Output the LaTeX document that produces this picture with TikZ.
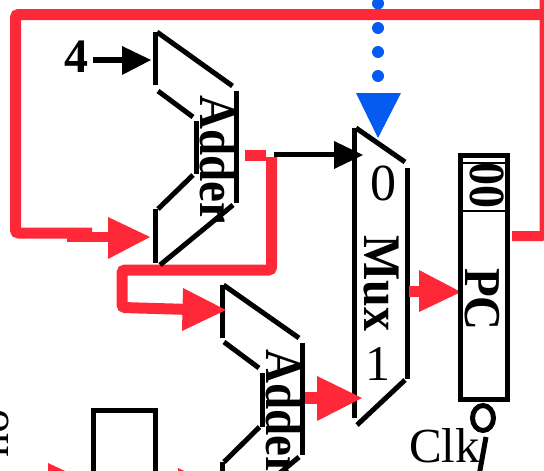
\documentclass[tikz,border=0pt]{standalone}
\usepackage{fontspec}
\setmainfont{Liberation Serif}
\definecolor{wirered}{RGB}{255,40,56}
\definecolor{wireblue}{RGB}{5,90,240}
\tikzset{
 x=1pt,y=-1pt,
 blk/.style={line width=5pt,black},
 shaft/.style={line width=5.5pt,black},
 redwire/.style={line width=11pt,wirered,rounded corners=3pt},
 rotb/.style={rotate=-90,inner sep=0pt,anchor=base west,font=\fontsize{#1}{#1}\selectfont\bfseries},
 digit/.style={inner sep=0pt,anchor=base,font=\fontsize{#1}{#1}\selectfont},
}
\newcommand{\tall}[1]{\scalebox{1}[1.1]{#1}}
\begin{document}
\begin{tikzpicture}
\useasboundingbox (0,0) rectangle (544,471);
% red wires
\coordinate (a1tip) at (150,237);
\coordinate (wl) at (15.5,233);
\coordinate (wt) at (15.5,14.5);
\coordinate (wr) at (560,14.5);
\draw[redwire] (92,233) -- (wl) -- (wt) -- (wr);
\fill[wirered] (67,232) rectangle (110,242);
\coordinate (pcout) at (512,236);
\coordinate (pcr) at (544.5,236);
\coordinate (pct) at (544.5,-10);
\draw[redwire,line width=10pt] (pcout) -- (pcr) -- (pct);
\coordinate (w1) at (271.5,157);
\coordinate (w2) at (271.5,270);
\coordinate (w3) at (122,270);
\coordinate (w4) at (122,307.5);
\coordinate (w5) at (190,309.5);
\draw[redwire] (w1) -- (w2) -- (w3) -- (w4) -- (w5);
\fill[wirered] (245,150) rectangle (266,161);
% constant 4
\node[font=\fontsize{48}{48}\selectfont\bfseries,inner sep=0pt,anchor=base west] (four) at (64,72) {4};
\coordinate (fourin) at (125,60);
\draw[shaft] (93,60) -- (fourin);
\fill (122,46) -- (151,60) -- (122,75) -- cycle;
% adder 1
\draw[blk] (155.5,85) -- (155.5,32);
\draw[blk] (157,32) -- (232.5,86);
\draw[blk] (236,91) -- (236,203);
\draw[blk] (158,91) -- (193,117);
\draw[blk] (196,121) -- (196,174);
\draw[blk] (193,175) -- (158,209);
\draw[blk] (155.5,209) -- (155.5,263);
\draw[blk] (233,205) -- (160,265);
\node[rotb=47] (add1) at (200,95) {\tall{Adder}};
\fill[wirered] (108,217) -- (150,237) -- (108,259) -- cycle;
% arrow to mux 0
\draw[line width=5pt] (274,154.5) -- (336,154.5);
% adder 2
\draw[blk] (222,338) -- (222,285);
\draw[blk] (223.5,285) -- (299,338);
\draw[blk] (302,343) -- (302,455);
\draw[blk] (224,342) -- (259,368);
\draw[blk] (262,373) -- (262,427);
\draw[blk] (259.5,427) -- (224,462);
\draw[blk] (222,462) -- (222,480);
\draw[blk] (299,457) -- (269,482);
\node[rotb=47] (add2) at (266,349) {\tall{Adder}};
\fill[wirered] (183,288) -- (226,310) -- (182,331) -- cycle;
% mux
\draw[blk] (354,418) -- (354,128);
\draw[blk] (356,128) -- (405,162);
\draw[blk] (407,168) -- (407,379);
\draw[blk] (405,380) -- (357,425);
\fill (334,141) -- (363,155) -- (334,169) -- cycle;
\node[digit=52] (m0) at (383.5,200) {0};
\node[rotb=48] (mux) at (364,235) {\tall{Mux}};
\node[digit=50] (m1) at (378,380) {1};
% mux to PC
\fill[wirered] (409,286) rectangle (421,297);
\fill[wirered] (419,270) -- (461,292) -- (419,312) -- cycle;
% adder 2 to mux
\fill[wirered] (305,392) rectangle (318,404);
\fill[wirered] (317,376) -- (362,398) -- (317,421) -- cycle;
% PC
\draw[blk] (460,155.5) rectangle (507.5,399.5);
\draw[line width=1.6pt] (462,163) -- (506,163);
\draw[line width=1.6pt] (462,211) -- (506,211);
\node[rotb=46] (zz) at (470,162) {\tall{00}};
\node[rotb=47] (pc) at (465,268) {\tall{PC}};
% clk
\draw[line width=5pt] (483,418) ellipse [x radius=10.5pt,y radius=12.5pt];
\coordinate (ck1) at (486,437);
\coordinate (ck2) at (479.5,473);
\draw[line width=5pt] (ck1) -- (ck2);
\node[font=\fontsize{49}{49}\selectfont,inner sep=0pt,anchor=base west] (clk) at (409,462) {Clk};
% blue select
\foreach \y in {3.5,28,52,76} \fill[wireblue] (378,\y) circle (6pt);
\fill[wireblue] (356,93) -- (401,93) -- (378,138) -- cycle;
% lower left
\draw[blk] (93.5,480) -- (93.5,410) -- (155,410) -- (155,480);
\fill[wirered] (48,463) -- (93,484) -- (48,505) -- cycle;
\fill[wirered] (178,468) -- (223,489) -- (178,510) -- cycle;
\node[rotate=90,inner sep=0pt,anchor=base east,font=\fontsize{48}{48}\selectfont] (ll) at (9,409) {no};
\end{tikzpicture}
\end{document}
